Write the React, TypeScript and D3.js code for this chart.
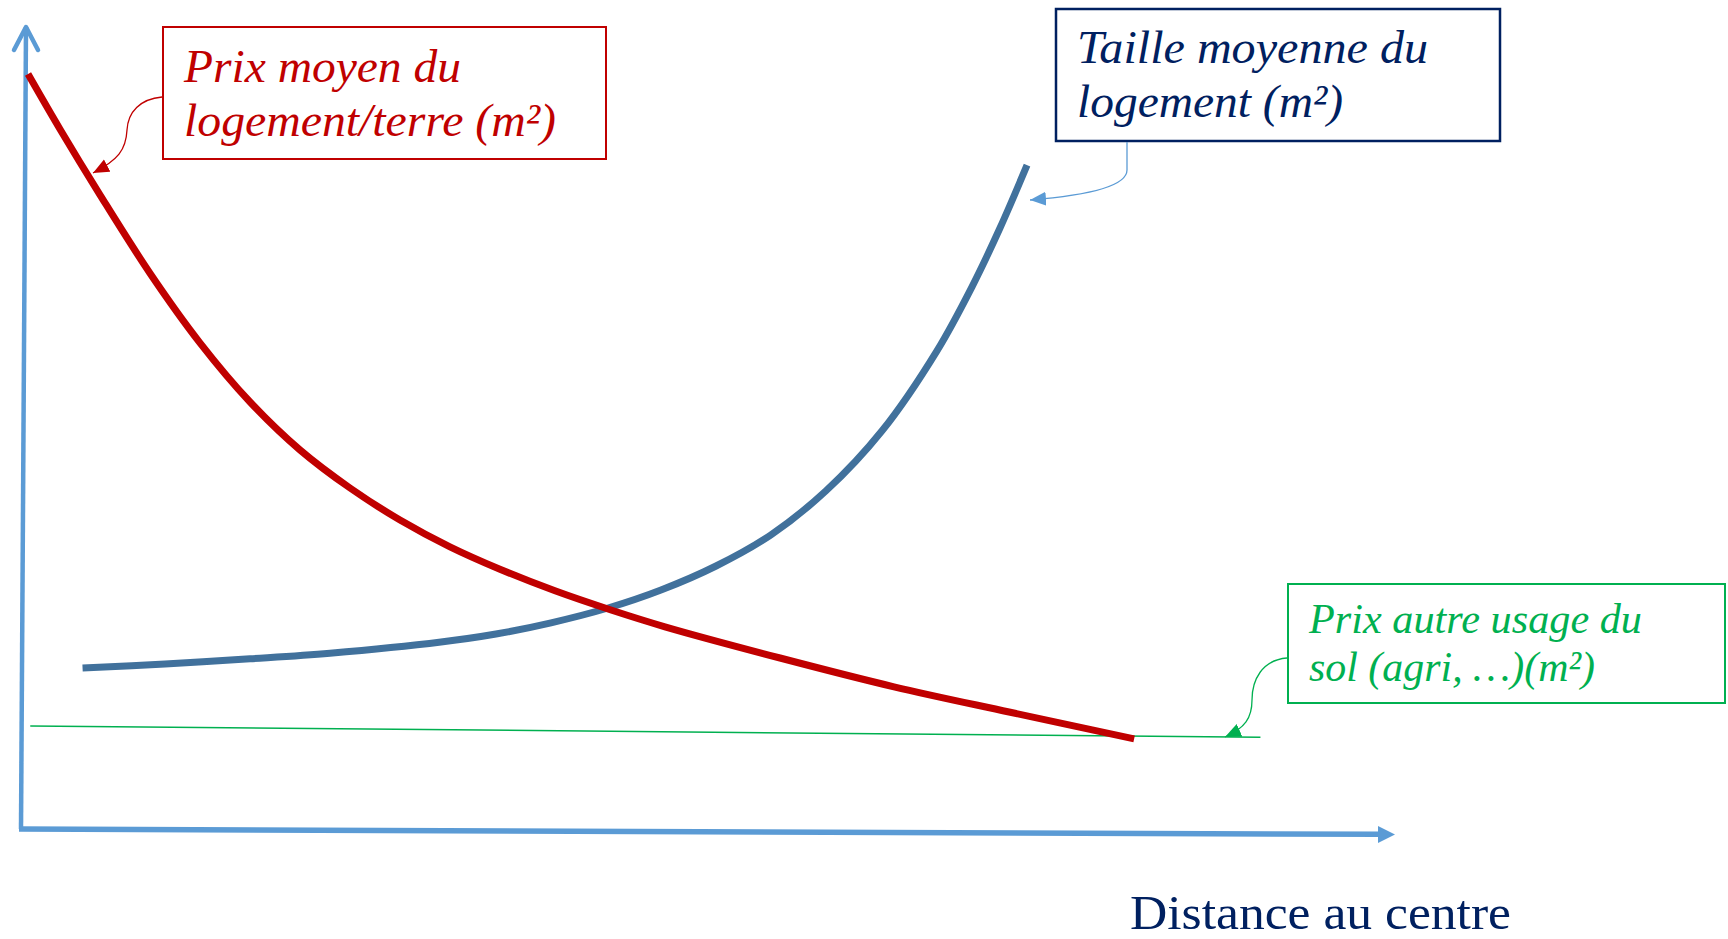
import React from "react";
import * as d3 from "d3";

// ---- data (abstract units: distance 0..100, value 0..100) ----
const priceDistance = [0.44, 2.77, 5.68, 9.32, 12.96, 16.61, 20.25, 23.89, 27.53, 31.17, 34.81, 38.82, 42.9, 46.83, 55.21, 63.51, 71.89, 81.0];
const priceValue = [94.5, 87.6, 79.4, 69.6, 60.9, 53.5, 47.5, 42.75, 38.75, 35.4, 32.6, 29.9, 27.5, 25.4, 21.5, 17.9, 14.75, 11.4];

const sizeDistance = [4.41, 10.42, 16.61, 22.43, 30.52, 34.52, 38.53, 42.68, 46.54, 50.55, 54.55, 58.56, 62.64, 66.64, 69.19, 71.23, 73.2];
const sizeValue = [20.25, 20.75, 21.4, 22.1, 23.5, 24.5, 25.9, 27.75, 30.0, 33.0, 36.9, 42.4, 49.9, 59.9, 67.9, 75.25, 83.1];

const otherUseDistance = [0.6, 90.2];
const otherUseValue = [13.0, 11.6];

const labelPrice = ["Prix moyen du", "logement/terre (m²)"];
const labelSize = ["Taille moyenne du", "logement (m²)"];
const labelOther = ["Prix autre usage du", "sol (agri, …)(m²)"];
const axisTitle = "Distance au centre";

const W = 1728;
const H = 939;

const xScale = d3.scaleLinear().domain([0, 100]).range([22, 1395]);
const yScale = d3.scaleLinear().domain([0, 100]).range([830, 30]);

type P = { x: number; y: number };
const zip = (xs: number[], ys: number[]): P[] => xs.map((x, i) => ({ x, y: ys[i] }));

const line = d3
  .line<P>()
  .x((d) => xScale(d.x))
  .y((d) => yScale(d.y))
  .curve(d3.curveCatmullRom.alpha(0.5));

const straight = d3
  .line<P>()
  .x((d) => xScale(d.x))
  .y((d) => yScale(d.y));

const RED = "#C00000";
const BLUE = "#41719C";
const AXIS = "#5B9BD5";
const GREEN = "#00B050";
const NAVY = "#002060";
const FONT = "'Liberation Serif', 'Times New Roman', serif";

export default function App() {
  const x0 = xScale(0);
  const y0 = yScale(0);
  const yTop = yScale(100) - 3;
  const xEnd = xScale(100);

  return (
    <svg
      width={W}
      height={H}
      viewBox={`0 0 ${W} ${H}`}
      style={{ position: "absolute", left: 0, top: 0, display: "block", background: "#fff" }}
    >
      <defs>
        <marker id="arrRed" markerUnits="userSpaceOnUse" markerWidth="18" markerHeight="16" refX="16" refY="7" orient="auto">
          <path d="M0,0 L16,7 L0,14 Z" fill={RED} />
        </marker>
        <marker id="arrBlue" markerUnits="userSpaceOnUse" markerWidth="18" markerHeight="16" refX="16" refY="7" orient="auto">
          <path d="M0,0 L16,7 L0,14 Z" fill={AXIS} />
        </marker>
        <marker id="arrGreen" markerUnits="userSpaceOnUse" markerWidth="18" markerHeight="16" refX="16" refY="7" orient="auto">
          <path d="M0,0 L16,7 L0,14 Z" fill={GREEN} />
        </marker>
      </defs>

      {/* Y axis with open arrow */}
      <line x1={x0 - 1} y1={y0 - 1} x2={x0 + 4} y2={yTop} stroke={AXIS} strokeWidth={4.5} />
      <polyline
        points={`${x0 - 8},${yTop + 23} ${x0 + 4},${yTop} ${x0 + 16},${yTop + 23}`}
        fill="none"
        stroke={AXIS}
        strokeWidth={4.5}
        strokeLinecap="round"
        strokeLinejoin="round"
      />

      {/* X axis with filled arrow */}
      <line x1={x0 - 3} y1={y0 - 1} x2={xEnd - 16} y2={y0 + 4.3} stroke={AXIS} strokeWidth={5.5} />
      <path
        d={`M${xEnd - 17},${y0 - 4} L${xEnd},${y0 + 4.5} L${xEnd - 17},${y0 + 13} Z`}
        fill={AXIS}
      />

      {/* other land use price (thin green) */}
      <path d={straight(zip(otherUseDistance, otherUseValue)) || ""} fill="none" stroke={GREEN} strokeWidth={1.5} />

      {/* house size (blue) */}
      <path d={line(zip(sizeDistance, sizeValue)) || ""} fill="none" stroke={BLUE} strokeWidth={7} strokeLinecap="butt" />

      {/* housing price (red) */}
      <path d={line(zip(priceDistance, priceValue)) || ""} fill="none" stroke={RED} strokeWidth={7} strokeLinecap="butt" />

      {/* red label */}
      <rect x={163} y={27} width={443} height={132} fill="#fff" stroke={RED} strokeWidth={2} />
      <text x={184} y={82} fill={RED} fontFamily={FONT} fontStyle="italic" fontSize={47} textLength={277} lengthAdjust="spacingAndGlyphs">
        {labelPrice[0]}
      </text>
      <text x={184} y={136} fill={RED} fontFamily={FONT} fontStyle="italic" fontSize={47} textLength={372} lengthAdjust="spacingAndGlyphs">
        {labelPrice[1]}
      </text>
      <path d="M162,97 C140,99 128,112 127,130 C126,150 118,160 93,173" fill="none" stroke={RED} strokeWidth={1.3} markerEnd="url(#arrRed)" />

      {/* navy label */}
      <rect x={1056} y={9} width={444} height={132} fill="#fff" stroke={NAVY} strokeWidth={2.5} />
      <text x={1077} y={63} fill={NAVY} fontFamily={FONT} fontStyle="italic" fontSize={47} textLength={351} lengthAdjust="spacingAndGlyphs">
        {labelSize[0]}
      </text>
      <text x={1077} y={117} fill={NAVY} fontFamily={FONT} fontStyle="italic" fontSize={47} textLength={266} lengthAdjust="spacingAndGlyphs">
        {labelSize[1]}
      </text>
      <path d="M1127,142 L1127,170 C1127,188 1080,196 1030,200" fill="none" stroke={AXIS} strokeWidth={1.3} markerEnd="url(#arrBlue)" />

      {/* green label */}
      <rect x={1288} y={584} width={437} height={119} fill="#fff" stroke={GREEN} strokeWidth={2} />
      <text x={1309} y={633} fill={GREEN} fontFamily={FONT} fontStyle="italic" fontSize={42} textLength={333} lengthAdjust="spacingAndGlyphs">
        {labelOther[0]}
      </text>
      <text x={1309} y={681} fill={GREEN} fontFamily={FONT} fontStyle="italic" fontSize={42} textLength={286} lengthAdjust="spacingAndGlyphs">
        {labelOther[1]}
      </text>
      <path d="M1287,658 C1262,660 1252,680 1252,700 C1252,718 1245,728 1225,737" fill="none" stroke={GREEN} strokeWidth={1.3} markerEnd="url(#arrGreen)" />

      {/* axis title */}
      <text x={1130} y={929} fill={NAVY} fontFamily={FONT} fontSize={48} textLength={381} lengthAdjust="spacingAndGlyphs">
        {axisTitle}
      </text>
    </svg>
  );
}
